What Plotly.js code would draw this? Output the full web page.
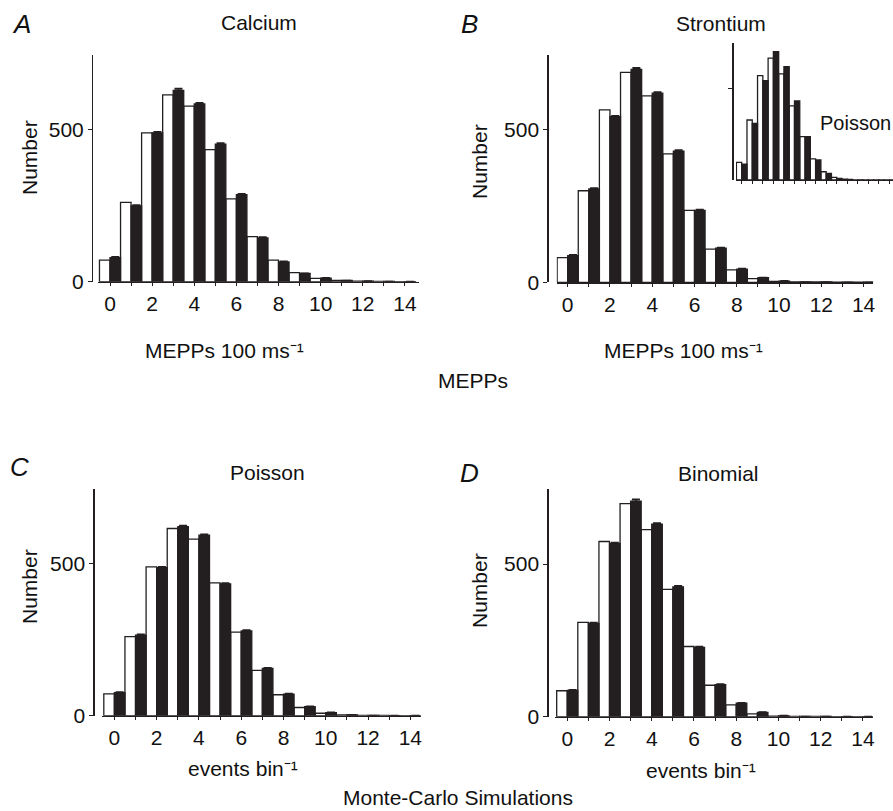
<!DOCTYPE html>
<html>
<head>
<meta charset="utf-8">
<script src="https://cdn.plot.ly/plotly-3.0.1.min.js"></script>
<style>html,body{margin:0;padding:0;background:#fff;}#chart{width:893px;height:811px;}</style>
</head>
<body>
<div id="chart"></div>
<script>
// ---------- data ----------
const cats = [0,1,2,3,4,5,6,7,8,9,10,11,12,13,14];
const labelVals = [0,2,4,6,8,10,12,14];
const labelText = ['0','2','4','6','8','10','12','14'];
const yTickVals = [0,500];
const yTickText = ['0','500'];

// A: Calcium (open / filled bars)
const calciumOpen   = [71,261,489,614,577,434,272,148,71,30,11,4,2,1,0.5];
const calciumFilled = [79,249,489,629,584,452,286,144,65,27,12,4,2,1,0.3];
const calciumErr    = [3,3,4,6,4,4,3,3,2,1,1,0,0,0,0];

// B: Strontium
const strontiumOpen   = [81,300,565,688,611,421,236,109,41,12,3,1,1,0.5,0.3];
const strontiumFilled = [87,306,543,698,620,430,236,112,43,15,4,1,1,0.5,0.3];
const strontiumErr    = [3,3,3,5,4,4,3,2,2,1,1,0,0,0,0];

// B inset: Poisson
const insetOpen   = [96,327,569,664,578,404,236,115,45,14,4,1,1,0.5,0.3];
const insetFilled = [87,309,542,700,618,431,236,109,36,9,3,1,0.5,0.3,0.3];

// C: Poisson (Monte-Carlo)
const poissonOpen   = [72,260,490,616,581,437,275,149,69,27,8,3,1,1,0.3];
const poissonFilled = [76,265,487,622,594,434,279,156,71,30,10,3,1,0.5,0.3];
const poissonErr    = [2,3,3,4,3,3,3,2,2,1,1,0,0,0,0];

// D: Binomial (Monte-Carlo)
const binomialOpen   = [85,309,574,698,613,417,230,103,39,9,2,1,1,0.5,0.3];
const binomialFilled = [86,306,568,706,631,425,227,105,44,14,3,1,1,0.5,0.3];
const binomialErr    = [2,3,3,6,4,4,3,2,2,1,1,0,0,0,0];

// ---------- helpers ----------
const W = 893, H = 811;
const px = x => x / W;
const py = y => 1 - y / H;
const FONT = 'Liberation Sans, Arial, Helvetica, sans-serif';
const BLACK = '#231f20';

function pair(open, filled, err, xa, ya) {
  const t1 = {
    type: 'bar', x: cats, y: open, xaxis: xa, yaxis: ya,
    marker: {color: '#ffffff', line: {color: BLACK, width: 1.3}},
    showlegend: false, hoverinfo: 'skip'
  };
  const t2 = {
    type: 'bar', x: cats, y: filled, xaxis: xa, yaxis: ya,
    marker: {color: BLACK, line: {color: BLACK, width: 1.3}},
    showlegend: false, hoverinfo: 'skip'
  };
  if (err) {
    t2.error_y = {type: 'data', array: err, arrayminus: err.map(() => 0),
                  symmetric: false, color: BLACK, thickness: 1.5, width: 4};
  }
  return [t1, t2];
}

const traces = [].concat(
  pair(calciumOpen, calciumFilled, calciumErr, 'x', 'y'),
  pair(strontiumOpen, strontiumFilled, strontiumErr, 'x2', 'y2'),
  pair(insetOpen, insetFilled, null, 'x3', 'y3'),
  pair(poissonOpen, poissonFilled, poissonErr, 'x4', 'y4'),
  pair(binomialOpen, binomialFilled, binomialErr, 'x5', 'y5')
);

function xAxis(domain, range, anchor, labels) {
  const ax = {
    domain: domain, range: range, anchor: anchor,
    showline: true, linecolor: BLACK, linewidth: 1.3,
    showgrid: false, zeroline: false,
    ticks: 'outside', ticklen: 3, tickwidth: 1, tickcolor: BLACK,
    tickfont: {family: FONT, size: 21, color: '#111'},
    fixedrange: true
  };
  if (labels) {
    ax.tickmode = 'array'; ax.tickvals = labelVals; ax.ticktext = labelText;
    ax.showticklabels = true;
    ax.minor = {tickmode: 'array', tickvals: cats, ticks: 'outside', ticklen: 3,
                tickwidth: 1, tickcolor: BLACK, showgrid: false};
  } else {
    ax.tickmode = 'array'; ax.tickvals = cats; ax.showticklabels = false;
  }
  return ax;
}
function yAxis(domain, position, labels) {
  const ax = {
    domain: domain, range: [0, 745], anchor: 'free', position: position,
    showline: true, linecolor: BLACK, linewidth: 1.3,
    showgrid: false, zeroline: false,
    ticks: 'outside', ticklen: 4, tickwidth: 1, tickcolor: BLACK,
    tickfont: {family: FONT, size: 21, color: '#111'},
    fixedrange: true
  };
  if (labels) {
    ax.tickmode = 'array'; ax.tickvals = yTickVals; ax.ticktext = yTickText;
    ax.showticklabels = true;
  } else {
    ax.tickmode = 'array'; ax.tickvals = [500]; ax.showticklabels = false;
  }
  return ax;
}

function ann(text, x, y, size, opts) {
  return Object.assign({
    text: text, xref: 'paper', yref: 'paper', x: px(x), y: py(y),
    xanchor: 'center', yanchor: 'middle', showarrow: false,
    font: {family: FONT, size: size || 21, color: '#111'}
  }, opts || {});
}
function letter(text, x, y) {
  return ann(text, x, y, 26, {font: {family: FONT, size: 26, color: '#111', style: 'italic'}});
}

const annotations = [
  letter('A', 21, 24),
  letter('B', 469, 24),
  letter('C', 19, 467),
  letter('D', 469, 473),
  ann('Calcium', 259, 23),
  ann('Strontium', 721, 24),
  ann('Poisson', 267, 472),
  ann('Binomial', 718, 473),
  ann('Poisson', 818, 123, 20, {xanchor: 'left'}),
  ann('Number', 29, 158, 21, {textangle: -90}),
  ann('Number', 479, 161, 21, {textangle: -90}),
  ann('Number', 29, 587, 21, {textangle: -90}),
  ann('Number', 479, 590, 21, {textangle: -90}),
  ann('MEPPs 100 ms\u207B\u00B9', 224, 350),
  ann('MEPPs 100 ms\u207B\u00B9', 683, 350),
  ann('MEPPs', 473, 380),
  ann('events bin\u207B\u00B9', 243, 768),
  ann('events bin\u207B\u00B9', 701, 770),
  ann('Monte-Carlo Simulations', 458, 0, 21, {y: 0, yanchor: 'bottom'})
];

const layout = {
  width: W, height: H,
  margin: {l: 0, r: 0, t: 0, b: 0, pad: 0},
  paper_bgcolor: '#ffffff', plot_bgcolor: 'rgba(0,0,0,0)',
  barmode: 'group', bargap: 0, bargroupgap: 0,
  showlegend: false,
  font: {family: FONT, size: 21, color: '#111'},
  xaxis:  xAxis([px(98), px(419)], [-0.57, 14.67], 'y', true),
  yaxis:  yAxis([py(281.7), py(55)], px(92), true),
  xaxis2: xAxis([px(556.7), px(873.3)], [-0.52, 14.46], 'y2', true),
  yaxis2: yAxis([py(282.3), py(55)], px(547.3), true),
  xaxis3: xAxis([px(736), 1], [-0.54, 14.33], 'y3', false),
  yaxis3: yAxis([py(180), py(43.3)], px(732.3), false),
  xaxis4: xAxis([px(101.7), px(420.7)], [-0.6, 14.49], 'y4', true),
  yaxis4: yAxis([py(715.7), py(489.3)], px(93.3), true),
  xaxis5: xAxis([px(555), px(872.7)], [-0.58, 14.46], 'y5', true),
  yaxis5: yAxis([py(716.7), py(489.3)], px(547.3), true),
  annotations: annotations
};

Plotly.newPlot('chart', traces, layout, {staticPlot: true, displayModeBar: false});
</script>
</body>
</html>
